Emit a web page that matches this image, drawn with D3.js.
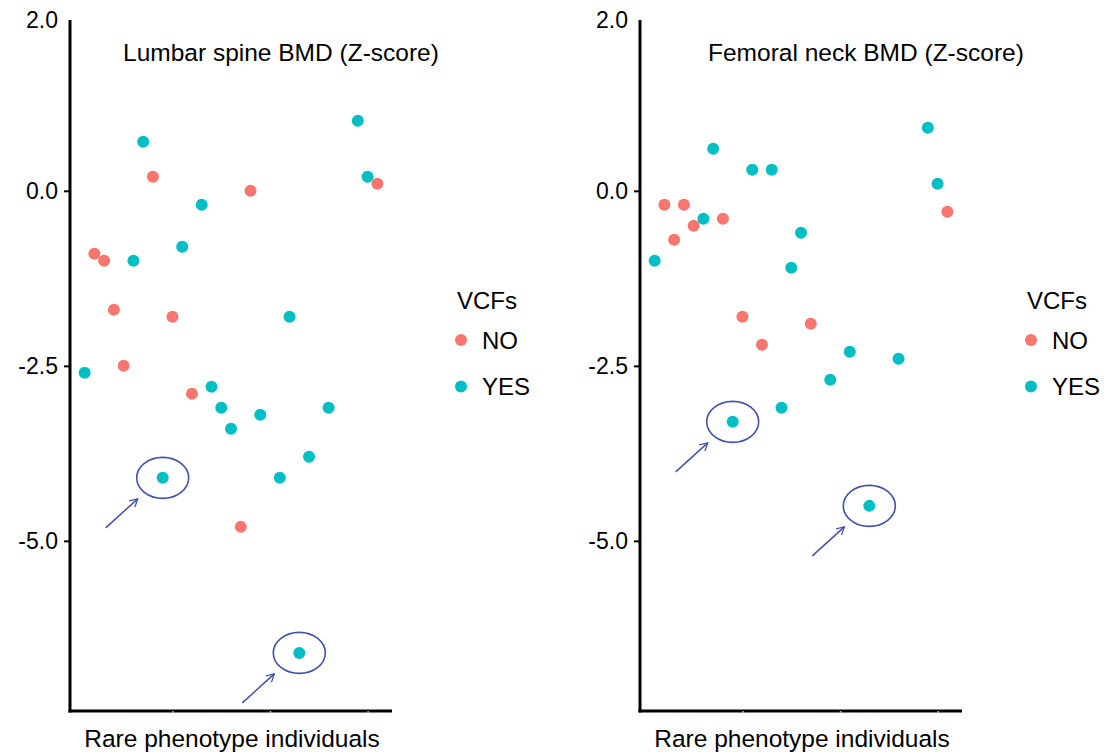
<!DOCTYPE html>
<html>
<head>
<meta charset="utf-8">
<script src="https://cdn.jsdelivr.net/npm/d3@7"></script>
<style>
  body { margin: 0; background: #fff; }
  text { font-family: "Liberation Sans", Arial, sans-serif; fill: #000; }
</style>
</head>
<body>
<svg id="chart" width="1120" height="753"></svg>
<script>
// individuals with a value in each panel (gaps = no measurement)
var lumbarId = [1, 2, 3, 4, 5, 6, 7, 8, 9, 10, 11, 12, 13, 14, 15, 16, 17, 18, 19, 21, 22, 23, 24, 26, 29, 30, 31];
var lumbarZ = [-2.6, -0.9, -1.0, -1.7, -2.5, -1.0, 0.7, 0.2, -4.1, -1.8, -0.8, -2.9, -0.2, -2.8, -3.1, -3.4, -4.8, 0.0, -3.2, -4.1, -1.8, -6.6, -3.8, -3.1, 1.0, 0.2, 0.1];
var lumbarVcf = ["YES", "NO", "NO", "NO", "NO", "YES", "YES", "NO", "YES", "NO", "YES", "NO", "YES", "YES", "YES", "YES", "NO", "NO", "YES", "YES", "YES", "YES", "YES", "YES", "YES", "YES", "NO"];

var femoralId = [1, 2, 3, 4, 5, 6, 7, 8, 9, 10, 11, 12, 13, 14, 15, 16, 17, 19, 21, 23, 26, 29, 30, 31];
var femoralZ = [-1.0, -0.2, -0.7, -0.2, -0.5, -0.4, 0.6, -0.4, -3.3, -1.8, 0.3, -2.2, 0.3, -3.1, -1.1, -0.6, -1.9, -2.7, -2.3, -4.5, -2.4, 0.9, 0.1, -0.3];
var femoralVcf = ["YES", "NO", "NO", "NO", "NO", "YES", "YES", "NO", "YES", "NO", "YES", "NO", "YES", "YES", "YES", "YES", "NO", "YES", "YES", "YES", "YES", "YES", "YES", "NO"];

var circledId = [9, 23];
var vcfLevels = ["NO", "YES"];
var vcfColors = ["#F8766D", "#00BFC4"];
var yTicks = [2.44, 0, -2.5, -5];
var yTickLabels = ["2.0", "0.0", "-2.5", "-5.0"];
var xTicks = [10, 20, 30];

var svg = d3.select("#chart");
var color = d3.scaleOrdinal().domain(vcfLevels).range(vcfColors);
var markColor = "#4152A8";

svg.append("defs").append("marker")
    .attr("id", "head").attr("viewBox", "0 0 10 10")
    .attr("refX", 9).attr("refY", 5)
    .attr("markerWidth", 9).attr("markerHeight", 9)
    .attr("markerUnits", "userSpaceOnUse")
    .attr("orient", "auto")
    .append("path").attr("d", "M0,0 L9,5 L0,10")
    .attr("fill", "none").attr("stroke", markColor).attr("stroke-width", 1.4);

function drawPanel(left, title, titleDx, ids, zs, vcfs) {
    var right = left + 322;
    var x = d3.scaleLinear().domain([-0.5, 32.5]).range([left, right]);
    var y = d3.scaleLinear().domain([-7.43, 2.44]).range([711, 20]);
    var g = svg.append("g");

    var yAxis = g.append("g").attr("transform", "translate(" + left + ",0)")
        .call(d3.axisLeft(y).tickValues(yTicks).tickSize(6).tickSizeOuter(0).tickPadding(6)
            .tickFormat(function (d, i) { return yTickLabels[i]; }));
    yAxis.select(".domain").attr("stroke", "#000").attr("stroke-width", 3)
        .attr("d", "M0,20V712.5");
    yAxis.selectAll(".tick line").attr("stroke", "#000").attr("stroke-width", 2)
        .attr("opacity", function (d, i) { return i == 0 ? 0 : 1; });
    yAxis.selectAll(".tick text").attr("font-size", 23)
        .attr("font-family", "Liberation Sans, Arial, sans-serif").attr("fill", "#000");

    var xAxis = g.append("g").attr("transform", "translate(0,711)")
        .call(d3.axisBottom(x).tickValues(xTicks).tickSize(2).tickSizeOuter(0).tickFormat(""));
    xAxis.select(".domain").attr("stroke", "#000").attr("stroke-width", 3)
        .attr("d", "M" + (left - 1.5) + ",0H" + right);
    xAxis.selectAll(".tick line").attr("stroke", "#bbb").attr("stroke-width", 1.5);

    g.append("text").attr("x", (left + right) / 2 + 1).attr("y", 747)
        .attr("text-anchor", "middle").attr("font-size", 24.5)
        .text("Rare phenotype individuals");

    g.append("text").attr("x", left + titleDx).attr("y", 61)
        .attr("font-size", 24.5).text(title);

    var pts = ids.map(function (id, i) { return { id: id, z: zs[i], vcf: vcfs[i] }; });
    g.selectAll("circle.pt").data(pts).enter().append("circle")
        .attr("class", "pt")
        .attr("cx", function (d) { return x(d.id); })
        .attr("cy", function (d) { return y(d.z); })
        .attr("r", 6)
        .attr("fill", function (d) { return color(d.vcf); });

    // hand-drawn style highlights
    var hl = pts.filter(function (d) { return circledId.indexOf(d.id) >= 0; });
    g.selectAll("ellipse.hl").data(hl).enter().append("ellipse")
        .attr("cx", function (d) { return x(d.id); })
        .attr("cy", function (d) { return y(d.z); })
        .attr("rx", 26).attr("ry", 20.5)
        .attr("fill", "none").attr("stroke", markColor).attr("stroke-width", 1.6);
    g.selectAll("line.arrow").data(hl).enter().append("line")
        .attr("x1", function (d) { return x(d.id) - 57; })
        .attr("y1", function (d) { return y(d.z) + 50; })
        .attr("x2", function (d) { return x(d.id) - 25; })
        .attr("y2", function (d) { return y(d.z) + 21; })
        .attr("stroke", markColor).attr("stroke-width", 1.5)
        .attr("marker-end", "url(#head)");

    // legend
    var lg = g.append("g").attr("transform", "translate(" + (right + 65) + ",0)");
    lg.append("text").attr("x", 0).attr("y", 309).attr("font-size", 24).text("VCFs");
    var items = lg.selectAll("g.item").data(vcfLevels).enter().append("g")
        .attr("transform", function (d, i) { return "translate(0," + (340 + i * 46.5) + ")"; });
    items.append("circle").attr("cx", 4).attr("cy", 0).attr("r", 6)
        .attr("fill", function (d) { return color(d); });
    items.append("text").attr("x", 25).attr("y", 0).attr("dy", "0.36em")
        .attr("font-size", 24).text(function (d) { return d; });
}

drawPanel(70, "Lumbar spine BMD (Z-score)", 53, lumbarId, lumbarZ, lumbarVcf);
drawPanel(640, "Femoral neck BMD (Z-score)", 68, femoralId, femoralZ, femoralVcf);
</script>
</body>
</html>
